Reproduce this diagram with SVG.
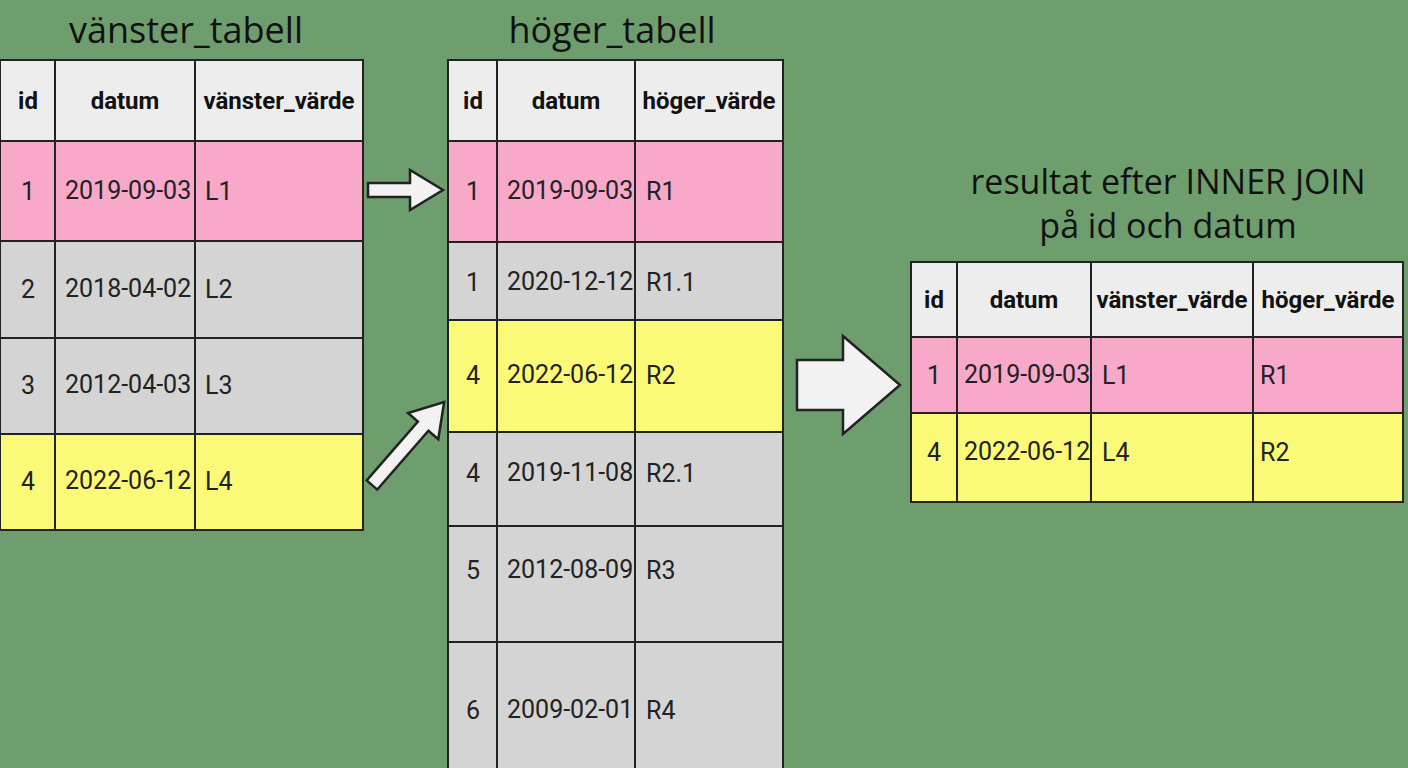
<svg xmlns="http://www.w3.org/2000/svg" width="1408" height="768" viewBox="0 0 1408 768">
<style>
.t{font-family:"Open Sans","Liberation Sans",sans-serif;font-size:36px;fill:#111;text-anchor:middle}
.h{font-family:Roboto,"Liberation Sans",sans-serif;font-weight:bold;font-size:24px;fill:#111;text-anchor:middle}
.d{font-family:Roboto,"Liberation Sans",sans-serif;font-size:25px;fill:#222}
.c{text-anchor:middle}
.g{stroke:#222;stroke-width:2}
.hd{fill:#ededed}.pk{fill:#f8a8c8}.gr{fill:#d4d4d4}.ye{fill:#fafa78}
.ar{fill:#f2f2f2;stroke:#222;stroke-width:2.5;stroke-linejoin:miter}
</style>
<rect width="1408" height="768" fill="#6f9e6e"/>
<text class="t" x="186" y="43">vänster_tabell</text>
<text class="t" x="612" y="43">höger_tabell</text>
<text class="t" x="1168" y="194" style="font-size:34px">resultat efter INNER JOIN</text>
<text class="t" x="1168" y="238" style="font-size:34px">på id och datum</text>

<g id="vanster_tabell">
<rect class="hd" x="0" y="60" width="363" height="81"/>
<rect class="pk" x="0" y="141" width="363" height="100"/>
<rect class="gr" x="0" y="241" width="363" height="193"/>
<rect class="ye" x="0" y="434" width="363" height="96"/>
<g class="g" fill="none"><rect x="0" y="60" width="363" height="470"/>
<path d="M55 60V530M195 60V530M0 141H363M0 241H363M0 338H363M0 434H363"/></g>
<text class="h" x="28" y="109">id</text><text class="h" x="125" y="109">datum</text><text class="h" x="279" y="109">vänster_värde</text>
<g class="d"><text class="c" x="28" y="200">1</text><text x="65" y="199">2019-09-03</text><text x="205" y="200">L1</text>
<text class="c" x="28" y="298">2</text><text x="65" y="297">2018-04-02</text><text x="205" y="298">L2</text>
<text class="c" x="28" y="394">3</text><text x="65" y="393">2012-04-03</text><text x="205" y="394">L3</text>
<text class="c" x="28" y="490">4</text><text x="65" y="489">2022-06-12</text><text x="205" y="490">L4</text></g>
</g>

<g id="hoger_tabell">
<rect class="hd" x="448" y="60" width="335" height="81"/>
<rect class="pk" x="448" y="141" width="335" height="101"/>
<rect class="gr" x="448" y="242" width="335" height="78"/>
<rect class="ye" x="448" y="320" width="335" height="112"/>
<rect class="gr" x="448" y="432" width="335" height="340"/>
<g class="g" fill="none"><rect x="448" y="60" width="335" height="712"/>
<path d="M497 60V768M635 60V768M448 141H783M448 242H783M448 320H783M448 432H783M448 526H783M448 642H783"/></g>
<text class="h" x="473" y="109">id</text><text class="h" x="566" y="109">datum</text><text class="h" x="709" y="109">höger_värde</text>
<g class="d"><text class="c" x="473" y="200">1</text><text x="507" y="199">2019-09-03</text><text x="646" y="200">R1</text>
<text class="c" x="473" y="291">1</text><text x="507" y="290">2020-12-12</text><text x="646" y="291">R1.1</text>
<text class="c" x="473" y="384">4</text><text x="507" y="383">2022-06-12</text><text x="646" y="384">R2</text>
<text class="c" x="473" y="482">4</text><text x="507" y="481">2019-11-08</text><text x="646" y="482">R2.1</text>
<text class="c" x="473" y="579">5</text><text x="507" y="578">2012-08-09</text><text x="646" y="579">R3</text>
<text class="c" x="473" y="719">6</text><text x="507" y="718">2009-02-01</text><text x="646" y="719">R4</text></g>
</g>

<g id="resultat">
<rect class="hd" x="911" y="262" width="492" height="75"/>
<rect class="pk" x="911" y="337" width="492" height="76"/>
<rect class="ye" x="911" y="413" width="492" height="89"/>
<g class="g" fill="none"><rect x="911" y="262" width="492" height="240"/>
<path d="M957 262V502M1091 262V502M1253 262V502M911 337H1403M911 413H1403"/></g>
<text class="h" x="934" y="308">id</text><text class="h" x="1024" y="308">datum</text><text class="h" x="1172" y="308">vänster_värde</text><text class="h" x="1328" y="308">höger_värde</text>
<g class="d"><text class="c" x="934" y="384">1</text><text x="964" y="383">2019-09-03</text><text x="1102" y="384">L1</text><text x="1260" y="384">R1</text>
<text class="c" x="934" y="461">4</text><text x="964" y="460">2022-06-12</text><text x="1102" y="461">L4</text><text x="1260" y="461">R2</text></g>
</g>

<g id="connectors">
<path class="ar" d="M368 183H410V170L443 190L410 210V197H368Z"/>
<path class="ar" transform="translate(372 485) rotate(-49)" d="M0 -7H78V-20L110 0L78 20V7H0Z"/>
<path class="ar" d="M797 360H843V336L900 385L843 434V410H797Z"/>
</g>
</svg>
